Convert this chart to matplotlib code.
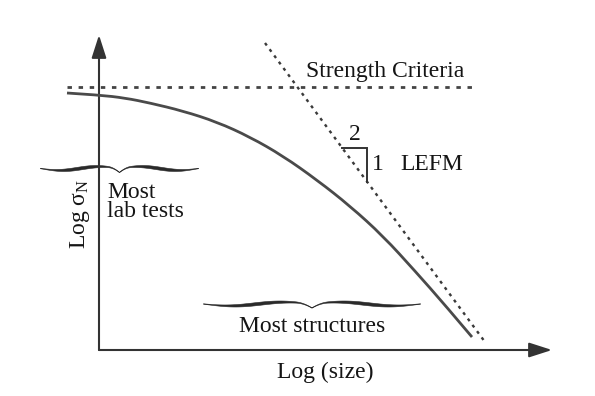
import numpy as np
import matplotlib
matplotlib.use("Agg")
import matplotlib.pyplot as plt
from matplotlib.patches import FancyArrowPatch, PathPatch
from matplotlib.path import Path

plt.rcParams['font.family'] = ['Liberation Serif', 'DejaVu Serif']
plt.rcParams['mathtext.fontset'] = 'custom'
plt.rcParams['mathtext.rm'] = 'Liberation Serif'
plt.rcParams['mathtext.it'] = 'Liberation Serif:italic'
plt.rcParams['lines.scale_dashes'] = False

# Size-effect curve: log(size) against log(nominal strength)
log_size = [-0.32, 0.00, 0.26, 0.51, 0.84, 1.18, 1.51, 1.84, 2.18, 2.51, 2.84, 3.16, 3.46, 3.73]
log_sigma = [2.57, 2.55, 2.52, 2.47, 2.39, 2.28, 2.13, 1.94, 1.70, 1.44, 1.14, 0.79, 0.45, 0.13]

# Strength criterion (horizontal asymptote)
strength_level = 2.63
strength_span = [-0.32, 3.76]

# LEFM asymptote (slope -1/2 in log-log)
lefm_x = [1.66, 3.86]
lefm_y = [3.07, 0.08]
slope_tri_x = 2.43
slope_tri_run = 0.25

# Axis extents
x_axis_end = 4.53
y_axis_end = 3.15

# Ranges marked with braces
lab_tests_range = [-0.59, 0.99]
lab_tests_level = 1.82
structures_range = [1.04, 3.21]
structures_level = 0.465

TEXT = '#151515'
AXIS = '#333333'
CURVE = '#4a4a4a'
FS = 17

fig = plt.figure(figsize=(5.95, 3.96), dpi=100)
ax = fig.add_axes([0, 0, 1, 1])
ax.set_xlim(-0.99, 4.96)
ax.set_ylim(-0.46, 3.50)
ax.axis('off')

# Axes with arrow heads
for tip in [(x_axis_end, 0.0), (0.0, y_axis_end)]:
    ax.add_patch(FancyArrowPatch((0.0, 0.0), tip,
                                 arrowstyle='-|>,head_length=14,head_width=4.5',
                                 mutation_scale=1, shrinkA=0, shrinkB=0,
                                 lw=1.5, color=AXIS, zorder=3))

# Asymptotes
ax.plot(strength_span, [strength_level, strength_level], color='#444444',
        lw=2.0, dashes=(3.2, 4.8), dash_capstyle='butt')
ax.plot(lefm_x, lefm_y, color='#3a3a3a', lw=1.7, dashes=(2.2, 3.4),
        dash_capstyle='butt')

# Size-effect curve, drawn as a smooth quadratic Bezier through the points
pts = np.column_stack([log_size, log_sigma])
verts = [pts[0]]
codes = [Path.MOVETO]
for i in range(1, len(pts) - 1):
    end = pts[-1] if i == len(pts) - 2 else (pts[i] + pts[i + 1]) / 2
    verts += [pts[i], end]
    codes += [Path.CURVE3, Path.CURVE3]
ax.add_patch(PathPatch(Path(verts, codes), facecolor='none', edgecolor=CURVE,
                       lw=2.0, capstyle='butt', zorder=4))

# Slope triangle on the LEFM line
slope = (lefm_y[1] - lefm_y[0]) / (lefm_x[1] - lefm_x[0])
ty0 = lefm_y[0] + slope * (slope_tri_x - lefm_x[0])
tx1 = slope_tri_x + slope_tri_run
ty1 = ty0 + slope * slope_tri_run
ax.plot([slope_tri_x, tx1, tx1], [ty0, ty0, ty1], color=AXIS, lw=1.4,
        solid_joinstyle='miter')
ax.text((slope_tri_x + tx1) / 2, ty0 + 0.03, '2', fontsize=FS, color=TEXT,
        ha='center', va='bottom')
ax.text(tx1 + 0.05, (ty0 + ty1) / 2, '1', fontsize=FS, color=TEXT,
        ha='left', va='center')
ax.text(3.01, (ty0 + ty1) / 2, 'LEFM', fontsize=FS, color=TEXT,
        ha='left', va='center')


def brace(x0, x1, level, sx=0.01):
    """Horizontal curly brace with the point facing down."""
    xs = np.linspace(x0, x1, 400)
    mid = (x0 + x1) / 2
    u = 1 - np.abs(xs - mid) / (mid - x0)      # 0 at the ends, 1 at the point
    d = 1.9 * np.sin(2 * np.pi * u) + 4.0 * np.clip((u - 0.85) / 0.15, 0, None) ** 2
    w = 0.5 + 2.6 * np.sin(np.pi * u) ** 1.5
    yc = level - d * sx
    ax.fill_between(xs, yc - w * sx / 2, yc + w * sx / 2, color='#2a2a2a', lw=0.4,
                    edgecolor='#2a2a2a')


brace(*lab_tests_range, lab_tests_level)
brace(*structures_range, structures_level)

# Labels
ax.text(2.86, 2.78, 'Strength Criteria', fontsize=FS, color=TEXT,
        ha='center', va='center')
ax.text(0.08, 1.48, 'Most\nlab tests', fontsize=FS, color=TEXT,
        ha='left', va='center', linespacing=0.92)
ax.text(2.13, 0.23, 'Most structures', fontsize=FS, color=TEXT,
        ha='center', va='center')
ax.text(2.26, -0.22, 'Log (size)', fontsize=FS, color=TEXT,
        ha='center', va='center')
ax.text(-0.19, 1.36, r'Log $\mathrm{\sigma}_\mathrm{N}$', fontsize=FS, color=TEXT,
        ha='center', va='center', rotation=90)

fig.savefig('out.png', dpi=100, facecolor='white')
